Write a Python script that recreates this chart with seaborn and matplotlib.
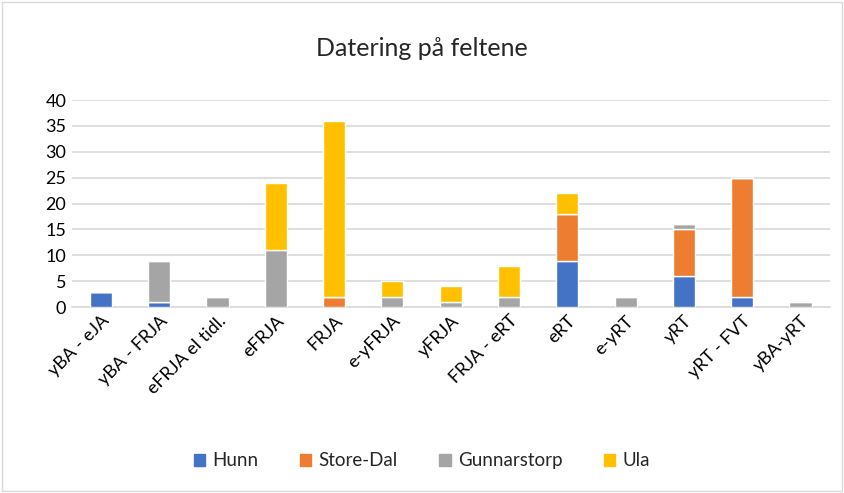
import numpy as np
import pandas as pd
import matplotlib.pyplot as plt
import seaborn as sns
from matplotlib.patches import Rectangle

# data
periods = ["yBA - eJA", "yBA - FRJA", "eFRJA el tidl.", "eFRJA", "FRJA", "e-yFRJA",
           "yFRJA", "FRJA - eRT", "eRT", "e-yRT", "yRT", "yRT - FVT", "yBA-yRT"]
hunn = [3, 1, 0, 0, 0, 0, 0, 0, 9, 0, 6, 2, 0]
store_dal = [0, 0, 0, 0, 2, 0, 0, 0, 9, 0, 9, 23, 0]
gunnarstorp = [0, 8, 2, 11, 0, 2, 1, 2, 0, 2, 1, 0, 1]
ula = [0, 0, 0, 13, 34, 3, 3, 6, 4, 0, 0, 0, 0]

series = ["Hunn", "Store-Dal", "Gunnarstorp", "Ula"]
colors = ["#4472c4", "#ed7d31", "#a5a5a5", "#ffc000"]

df = pd.DataFrame({"period": periods, "Hunn": hunn, "Store-Dal": store_dal,
                   "Gunnarstorp": gunnarstorp, "Ula": ula})

sns.set_style("white")
plt.rcParams['font.family'] = ['Lato', 'DejaVu Sans']

fig = plt.figure(figsize=(8.44, 4.93), dpi=100)
ax = fig.add_axes([0.085, 0.377, 0.898, 0.42])

bottom = np.zeros(len(periods))
for name, c in zip(series, colors):
    sns.barplot(data=df, x="period", y=name, bottom=bottom, color=c, width=0.38,
                saturation=1, edgecolor="white", linewidth=1, legend=False,
                ax=ax, zorder=3)
    bottom = bottom + df[name].values

ax.set_ylim(0, 40)
ax.set_yticks(range(0, 41, 5))
ax.yaxis.grid(True, color="#d9d9d9", linewidth=1.2, zorder=0)
ax.set_axisbelow(True)
for s in ["top", "right", "left"]:
    ax.spines[s].set_visible(False)
ax.spines["bottom"].set_color("#d9d9d9")
ax.spines["bottom"].set_linewidth(1.2)
ax.set_xlabel("")
ax.set_ylabel("")
ax.tick_params(axis="both", length=0, labelsize=13, colors="#000000", pad=4)
plt.setp(ax.get_xticklabels(), rotation=45, ha="right", rotation_mode="anchor")

fig.suptitle("Datering på feltene", y=0.925, fontsize=18)

handles = [Rectangle((0, 0), 1, 1, color=c) for c in colors]
fig.legend(handles, series, loc="center", bbox_to_anchor=(0.5, 0.065), ncol=4,
           frameon=False, fontsize=13.5, handlelength=0.6, handleheight=0.6,
           columnspacing=2.2, handletextpad=0.4)

fig.patches.append(Rectangle((0.002, 0.004), 0.996, 0.992, transform=fig.transFigure,
                             fill=False, edgecolor="#d9d9d9", linewidth=1))

fig.savefig("out.png", dpi=100)
